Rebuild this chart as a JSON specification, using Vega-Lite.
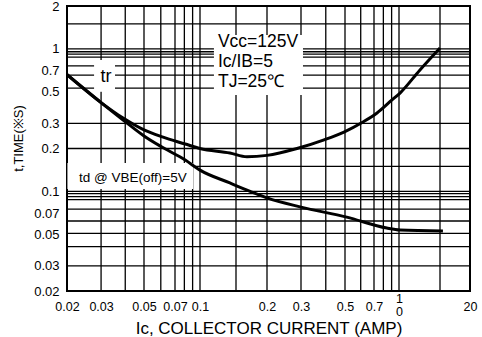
{
  "$schema": "https://vega.github.io/schema/vega-lite/v6.json",
  "width": 403,
  "height": 285,
  "autosize": {"type": "none"},
  "padding": {"left": 67, "top": 6, "right": 12, "bottom": 46},
  "background": "white",
  "config": {
    "view": {"stroke": "black", "strokeWidth": 2},
    "font": "Liberation Sans",
    "axis": {"labelColor": "black", "titleColor": "black", "titleFontWeight": "normal", "ticks": false, "domain": false, "grid": false}
  },
  "datasets": {
    "curves": [
      {"series": "tr", "x": 0.02, "y": 0.66},
      {"series": "tr", "x": 0.03, "y": 0.42},
      {"series": "tr", "x": 0.039, "y": 0.327},
      {"series": "tr", "x": 0.05, "y": 0.27},
      {"series": "tr", "x": 0.061, "y": 0.241},
      {"series": "tr", "x": 0.081, "y": 0.215},
      {"series": "tr", "x": 0.1, "y": 0.2},
      {"series": "tr", "x": 0.14, "y": 0.186},
      {"series": "tr", "x": 0.166, "y": 0.175},
      {"series": "tr", "x": 0.2, "y": 0.179},
      {"series": "tr", "x": 0.286, "y": 0.2},
      {"series": "tr", "x": 0.392, "y": 0.23},
      {"series": "tr", "x": 0.494, "y": 0.261},
      {"series": "tr", "x": 0.616, "y": 0.307},
      {"series": "tr", "x": 0.731, "y": 0.355},
      {"series": "tr", "x": 0.905, "y": 0.438},
      {"series": "tr", "x": 1.058, "y": 0.49},
      {"series": "tr", "x": 3.25, "y": 0.712},
      {"series": "tr", "x": 10, "y": 1.015},
      {"series": "td", "x": 0.02, "y": 0.66},
      {"series": "td", "x": 0.03, "y": 0.42},
      {"series": "td", "x": 0.039, "y": 0.317},
      {"series": "td", "x": 0.05, "y": 0.245},
      {"series": "td", "x": 0.061, "y": 0.204},
      {"series": "td", "x": 0.081, "y": 0.166},
      {"series": "td", "x": 0.1, "y": 0.141},
      {"series": "td", "x": 0.14, "y": 0.1146},
      {"series": "td", "x": 0.171, "y": 0.1},
      {"series": "td", "x": 0.2, "y": 0.09},
      {"series": "td", "x": 0.3, "y": 0.0776},
      {"series": "td", "x": 0.51, "y": 0.066},
      {"series": "td", "x": 0.84, "y": 0.0553},
      {"series": "td", "x": 1.06, "y": 0.0536},
      {"series": "td", "x": 10.7, "y": 0.0527}
    ],
    "xgrid": [
      {"x": 0.03}, {"x": 0.04}, {"x": 0.05}, {"x": 0.06}, {"x": 0.07}, {"x": 0.08}, {"x": 0.09},
      {"x": 0.1}, {"x": 0.15}, {"x": 0.2}, {"x": 0.3}, {"x": 0.4}, {"x": 0.5}, {"x": 0.6},
      {"x": 0.7}, {"x": 0.8}, {"x": 0.9}, {"x": 1}, {"x": 10}
    ],
    "ygrid": [
      {"y": 1.5}, {"y": 1}, {"y": 0.955}, {"y": 0.92}, {"y": 0.875}, {"y": 0.76}, {"y": 0.655},
      {"y": 0.53}, {"y": 0.3}, {"y": 0.2}, {"y": 0.15}, {"y": 0.1}, {"y": 0.0965}, {"y": 0.092},
      {"y": 0.0875}, {"y": 0.075}, {"y": 0.062}, {"y": 0.0507}, {"y": 0.041}, {"y": 0.03}
    ],
    "boxes": [
      {"x": 0.117, "x2": 0.307, "y": 1.251, "y2": 0.475},
      {"x": 0.0276, "x2": 0.0354, "y": 0.836, "y2": 0.5},
      {"x": 0.0201, "x2": 0.0905, "y": 0.158, "y2": 0.104}
    ],
    "notes": [
      {"group": "cond", "x": 0.1224, "y": 1.118, "label": "Vcc=125V"},
      {"group": "cond", "x": 0.1224, "y": 0.809, "label": "Ic/IB=5"},
      {"group": "cond", "x": 0.1224, "y": 0.586, "label": "TJ=25℃"},
      {"group": "tr", "x": 0.0318, "y": 0.635, "label": "tr"},
      {"group": "td", "x": 0.0231, "y": 0.124, "label": "td @ VBE(off)=5V"}
    ]
  },
  "layer": [
    {
      "data": {"name": "xgrid"},
      "mark": {"type": "rule", "color": "black", "strokeWidth": 1.3},
      "encoding": {
        "x": {
          "field": "x", "type": "quantitative",
          "scale": {"type": "log", "nice": false, "domain": [0.02, 0.05, 0.07, 0.1, 0.15, 0.2, 0.3, 0.5, 0.7, 1, 10, 20], "range": [0, 77, 108, 133, 169, 200, 234, 278, 307, 332, 373, 403]},
          "axis": {
            "title": "Ic, COLLECTOR CURRENT (AMP)",
            "titleFontSize": 17, "titleBaseline": "middle", "titleY": 37,
            "values": [0.02, 0.03, 0.05, 0.07, 0.1, 0.2, 0.3, 0.5, 0.7, 1, 20],
            "format": "~g",
            "labelExpr": "datum.value == 1 ? ['1', '0'] : datum.label",
            "labelFontSize": 12.5, "labelLineHeight": 13,
            "labelPadding": {"condition": {"test": "datum.value == 1", "value": 1}, "value": 9},
            "labelFlush": false, "labelOverlap": false
          }
        }
      }
    },
    {
      "data": {"name": "ygrid"},
      "mark": {"type": "rule", "color": "black", "strokeWidth": 1.3},
      "encoding": {
        "y": {
          "field": "y", "type": "quantitative",
          "scale": {"type": "log", "nice": false, "domain": [0.02, 2]},
          "axis": {
            "title": "t,TIME(※S)",
            "titleFontSize": 13, "titleBaseline": "middle", "titleX": -49, "titleY": 132,
            "values": [0.02, 0.03, 0.05, 0.07, 0.1, 0.2, 0.3, 0.5, 0.7, 1, 2],
            "format": "~g",
            "labelFontSize": 13, "labelPadding": 8, "labelFlush": false, "labelOverlap": false
          }
        }
      }
    },
    {
      "data": {"name": "boxes"},
      "mark": {"type": "rect", "fill": "white", "stroke": null},
      "encoding": {
        "x": {"field": "x", "type": "quantitative"},
        "x2": {"field": "x2"},
        "y": {"field": "y", "type": "quantitative"},
        "y2": {"field": "y2"}
      }
    },
    {
      "data": {"name": "curves"},
      "mark": {"type": "line", "color": "black", "strokeWidth": 3, "interpolate": "monotone"},
      "encoding": {
        "x": {"field": "x", "type": "quantitative"},
        "y": {"field": "y", "type": "quantitative"},
        "detail": {"field": "series"}
      }
    },
    {
      "data": {"name": "notes"},
      "transform": [{"filter": "datum.group == 'cond'"}],
      "mark": {"type": "text", "align": "left", "baseline": "middle", "fontSize": 17.5, "color": "black"},
      "encoding": {
        "x": {"field": "x", "type": "quantitative"},
        "y": {"field": "y", "type": "quantitative"},
        "text": {"field": "label"}
      }
    },
    {
      "data": {"name": "notes"},
      "transform": [{"filter": "datum.group == 'tr'"}],
      "mark": {"type": "text", "align": "center", "baseline": "middle", "fontSize": 18, "color": "black"},
      "encoding": {
        "x": {"field": "x", "type": "quantitative"},
        "y": {"field": "y", "type": "quantitative"},
        "text": {"field": "label"}
      }
    },
    {
      "data": {"name": "notes"},
      "transform": [{"filter": "datum.group == 'td'"}],
      "mark": {"type": "text", "align": "left", "baseline": "middle", "fontSize": 13.5, "color": "black"},
      "encoding": {
        "x": {"field": "x", "type": "quantitative"},
        "y": {"field": "y", "type": "quantitative"},
        "text": {"field": "label"}
      }
    }
  ]
}
